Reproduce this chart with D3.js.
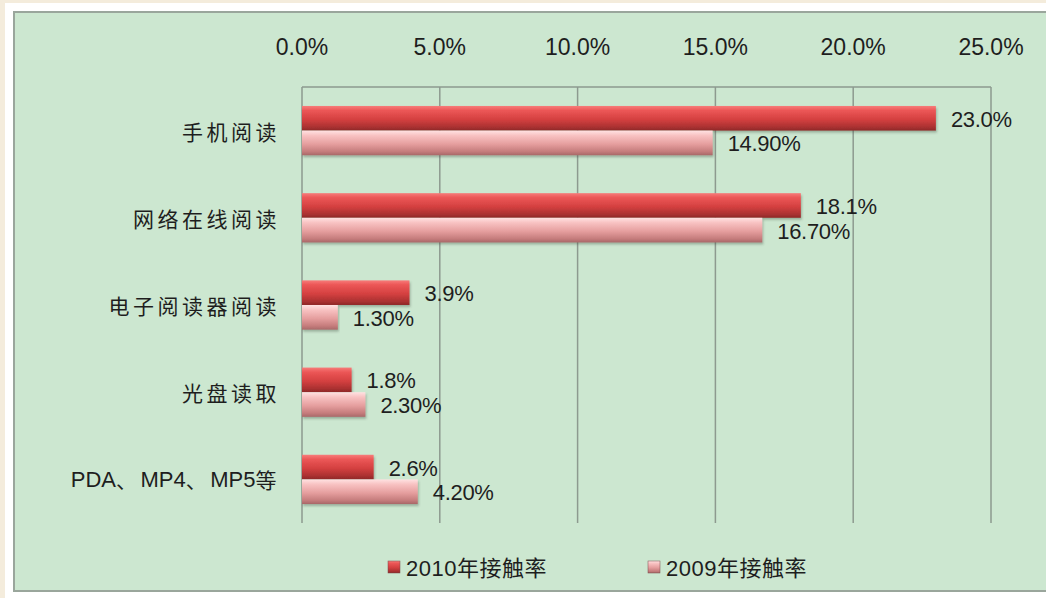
<!DOCTYPE html>
<meta charset="utf-8">
<script src="https://d3js.org/d3.v7.min.js"></script>
<style>
  body { margin: 0; background: #f4ecdc; }
  svg { display: block; }
  .tick-label { font-family: "Liberation Sans", Arial, sans-serif; font-size: 23px; fill: #1e1e1e; }
  .cat-label { font-family: "Noto Sans CJK SC", sans-serif; font-size: 21px; fill: #1e1e1e; }
  .cat-label .latin { font-family: "Liberation Sans", Arial, sans-serif; font-size: 22px; letter-spacing: 0px; }
  .cat-label .cjk { letter-spacing: 3.5px; }
  .val-label { font-family: "Liberation Sans", Arial, sans-serif; font-size: 22px; fill: #1e1e1e; letter-spacing: -0.3px; }
  .legend-label { font-family: "Liberation Sans", "Noto Sans CJK SC", sans-serif; font-size: 22px; fill: #1e1e1e; letter-spacing: 0.5px; }
</style>
<div id="my_dataviz"></div>
<script>
// data
var categories = ["手机阅读", "网络在线阅读", "电子阅读器阅读", "光盘读取", "PDA、MP4、MP5等"];
var seriesNames = ["2010年接触率", "2009年接触率"];
var values2010 = [23.0, 18.1, 3.9, 1.8, 2.6];
var values2009 = [14.9, 16.7, 1.3, 2.3, 4.2];
var labels2010 = ["23.0%", "18.1%", "3.9%", "1.8%", "2.6%"];
var labels2009 = ["14.90%", "16.70%", "1.30%", "2.30%", "4.20%"];
var xTicks = [0, 5, 10, 15, 20, 25];

var W = 1046, H = 598;
var plot = {left: 302, right: 991, top: 87, bottom: 523};

var svg = d3.select("#my_dataviz").append("svg")
  .attr("width", W).attr("height", H);

// page frame: white card, then green panel with grey border
svg.append("rect").attr("x", 5).attr("y", 3).attr("width", W).attr("height", H - 3).attr("fill", "#ffffff");
svg.append("rect").attr("x", 14).attr("y", 12).attr("width", W + 10).attr("height", 579)
  .attr("fill", "#cce7d0").attr("stroke", "#9aa69c").attr("stroke-width", 2);

var defs = svg.append("defs");
function barGradient(id, stops) {
  var g = defs.append("linearGradient").attr("id", id)
    .attr("x1", 0).attr("y1", 0).attr("x2", 0).attr("y2", 1);
  stops.forEach(function(s) { g.append("stop").attr("offset", s[0]).attr("stop-color", s[1]); });
}
barGradient("g2010", [[0, "#f77c7a"], [0.18, "#ec5757"], [0.55, "#d44040"], [0.85, "#ab3131"], [1, "#8e2828"]]);
barGradient("g2009", [[0, "#ffe2e2"], [0.2, "#f8c2c2"], [0.55, "#e59e9e"], [0.85, "#c57c7c"], [1, "#a86868"]]);
defs.append("filter").attr("id", "shadow").attr("x", "-5%").attr("y", "-20%").attr("width", "110%").attr("height", "160%")
  .append("feDropShadow").attr("dx", 1).attr("dy", 2).attr("stdDeviation", 1.2)
  .attr("flood-color", "#3a4a3c").attr("flood-opacity", 0.35);

var x = d3.scaleLinear().domain([0, 25]).range([plot.left, plot.right]);
var y = d3.scaleBand().domain(categories).range([plot.top, plot.bottom])
  .paddingInner(0.435).paddingOuter(0.2175);
var ySub = d3.scaleBand().domain(seriesNames).range([0, y.bandwidth()]);

// vertical gridlines
svg.append("g").selectAll("line").data(xTicks).enter().append("line")
  .attr("x1", function(d) { return x(d); }).attr("x2", function(d) { return x(d); })
  .attr("y1", plot.top).attr("y2", plot.bottom)
  .attr("stroke", "#8d9a8f").attr("stroke-width", 1.5);
// top axis line
svg.append("line").attr("x1", x(0)).attr("x2", x(25)).attr("y1", plot.top).attr("y2", plot.top)
  .attr("stroke", "#8d9a8f").attr("stroke-width", 1.5);

// top tick labels
svg.append("g").selectAll("text").data(xTicks).enter().append("text")
  .attr("class", "tick-label")
  .attr("x", function(d) { return x(d); }).attr("y", 55)
  .attr("text-anchor", "middle")
  .text(function(d) { return d3.format(".1f")(d) + "%"; });

// category labels, latin runs set tighter than the CJK ones
var cat = svg.append("g").selectAll("text").data(categories).enter().append("text")
  .attr("class", "cat-label")
  .attr("x", 280)
  .attr("y", function(d) { return y(d) + y.bandwidth() / 2; })
  .attr("dominant-baseline", "central")
  .attr("text-anchor", "end");
cat.selectAll("tspan").data(function(d) { return d.match(/[A-Za-z0-9]+|[^A-Za-z0-9]+/g); })
  .enter().append("tspan")
  .attr("class", function(d) { return /[A-Za-z0-9]/.test(d) ? "latin" : "cjk"; })
  .text(function(d) { return d; });

// bars
var series = [
  {name: seriesNames[0], values: values2010, labels: labels2010, fill: "url(#g2010)"},
  {name: seriesNames[1], values: values2009, labels: labels2009, fill: "url(#g2009)"}
];
series.forEach(function(s) {
  var rows = categories.map(function(c, i) { return {cat: c, v: s.values[i], label: s.labels[i]}; });
  var g = svg.append("g");
  g.selectAll("rect").data(rows).enter().append("rect")
    .attr("x", x(0))
    .attr("y", function(d) { return y(d.cat) + ySub(s.name); })
    .attr("width", function(d) { return x(d.v) - x(0); })
    .attr("height", ySub.bandwidth())
    .attr("fill", s.fill)
    .attr("filter", "url(#shadow)");
  g.selectAll("text").data(rows).enter().append("text")
    .attr("class", "val-label")
    .attr("x", function(d) { return x(d.v) + 15; })
    .attr("y", function(d) { return y(d.cat) + ySub(s.name) + ySub.bandwidth() / 2 + 1; })
    .attr("dominant-baseline", "central")
    .text(function(d) { return d.label; });
});

// legend
var legendX = [388, 648];
var lg = svg.append("g").selectAll("g").data(series).enter().append("g")
  .attr("transform", function(d, i) { return "translate(" + legendX[i] + ",567)"; });
lg.append("rect").attr("x", 0).attr("y", -6).attr("width", 12).attr("height", 12)
  .attr("fill", function(d) { return d.fill; }).attr("stroke", "#7a4a4a").attr("stroke-width", 0.5);
lg.append("text").attr("class", "legend-label")
  .attr("x", 18).attr("y", 1).attr("dominant-baseline", "central")
  .text(function(d) { return d.name; });
</script>
